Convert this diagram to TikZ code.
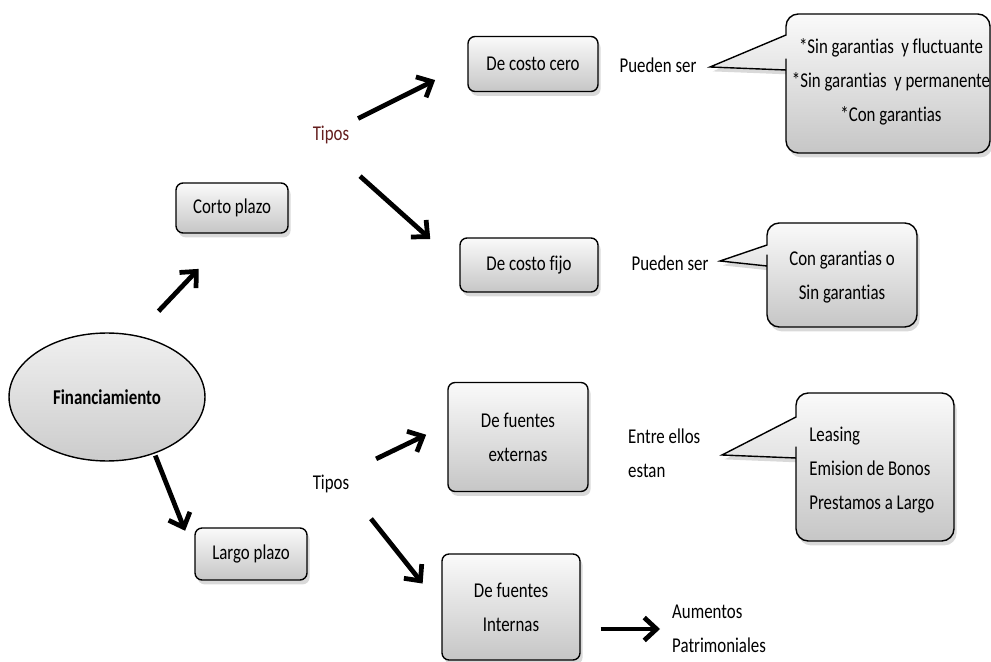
\documentclass[tikz,border=0pt]{standalone}
\usepackage{fontspec}
\setmainfont{Carlito}[FakeStretch=0.8, Ligatures={NoCommon}]
\usepackage{tikz}
\usetikzlibrary{shapes.geometric, arrows.meta, positioning, calc, shadows}
\definecolor{fxtop}{RGB}{250,250,250}
\definecolor{fxbottom}{RGB}{198,198,198}
\definecolor{fxmaroon}{RGB}{100,30,30}

\begin{document}
\begin{tikzpicture}[x=0.02cm, y=-0.02cm,
  every node/.style={font=\fontsize{12}{19.5}\selectfont},
  box/.style={draw, rounded corners=4pt, line width=0.8pt, top color=fxtop, bottom color=fxbottom,
    drop shadow={shadow xshift=1.5pt, shadow yshift=-2.5pt, opacity=0.3}, align=center, inner sep=2pt},
  callout/.style={draw, line width=0.8pt, top color=fxtop, bottom color=fxbottom,
    drop shadow={shadow xshift=1.5pt, shadow yshift=-2.5pt, opacity=0.3}},
  arr/.style={-{Straight Barb[length=7pt,width=13pt]}, line width=2.7pt}]
\useasboundingbox (0,0) rectangle (991,662);

% Root
\node[draw, ellipse, line width=0.8pt, top color=black!6, bottom color=black!20,
  minimum width=3.92cm, minimum height=2.56cm, inner sep=0] (fin) at (107,397) {\textbf{Financiamiento}};

% Plazos
\node[box, minimum width=2.24cm, minimum height=1.0cm] (corto) at (232,208) {Corto plazo};
\node[box, minimum width=2.24cm, minimum height=1.04cm] (largo) at (251,554) {Largo plazo};

% Tipos
\node[text=fxmaroon] (tipos1) at (331,135) {Tipos};
\node (tipos2) at (331,484) {Tipos};

\node[box, minimum width=2.6cm, minimum height=1.1cm] (cero) at (533,64) {De costo cero};
\node[box, minimum width=2.76cm, minimum height=1.08cm] (fijo) at (529,265) {De costo fijo};
\node[box, minimum width=2.8cm, minimum height=2.18cm] (externas) at (518,437) {De fuentes\\externas};
\node[box, minimum width=2.76cm, minimum height=2.12cm] (internas) at (511,607) {De fuentes\\Internas};

% Side texts
\node (ps1) at (658,65) {Pueden ser};
\node (ps2) at (670,263) {Pueden ser};
\node[anchor=west, align=left] (entre) at (622,453) {Entre ellos\\estan};
\node[anchor=west, align=left] (aum) at (666,629) {Aumentos\\Patrimoniales};

% Callouts
\path[callout] (710,67) -- (786,35) -- (786,34) [rounded corners=7pt] -- (786,14) -- (990,14)
  -- (990,153) -- (786,153) -- (786,71) [sharp corners] -- (786,70) -- cycle;
\path[callout] (720,261) -- (767,245) -- (767,244) [rounded corners=7pt] -- (767,223) -- (917,223)
  -- (917,327) -- (767,327) -- (767,267) [sharp corners] -- (767,266) -- cycle;
\path[callout] (722,455) -- (796,417) -- (796,416) [rounded corners=7pt] -- (796,393) -- (954,393)
  -- (954,541) -- (796,541) -- (796,459) [sharp corners] -- (796,458) -- cycle;

\node[align=center] (c1) at (891,82) {*Sin garantias~\,y fluctuante\\*Sin garantias~\,y permanente\\*Con garantias};
\node[align=center] (c2) at (842,277) {Con garantias o\\Sin garantias};
\node[anchor=west, align=left, inner sep=0] (c3) at (809,470) {Leasing\\Emision de Bonos\\Prestamos a Largo};

% Arrows
\draw[arr, shorten <=0.66cm, shorten >=0.97cm] (fin.65) -- (corto.south);
\draw[arr, shorten <=0.04cm, shorten >=0.5cm] (fin.-50) -- (largo.west);
\draw[arr, shorten <=0.06cm, shorten >=0.72cm] (tipos1.north east) -- (cero.west);
\draw[arr, shorten <=0.78cm, shorten >=0.78cm] (tipos1.south) -- (fijo.west);
\draw[arr, shorten <=0.46cm, shorten >=0.47cm] (tipos2.north east) -- (externas.170);
\draw[arr, shorten <=0.5cm, shorten >=0.6cm] (tipos2.south east) -- (internas.west);
\draw[arr, shorten <=0.4cm, shorten >=0.12cm] (internas.east |- aum.west) -- (aum.west);
\end{tikzpicture}
\end{document}
